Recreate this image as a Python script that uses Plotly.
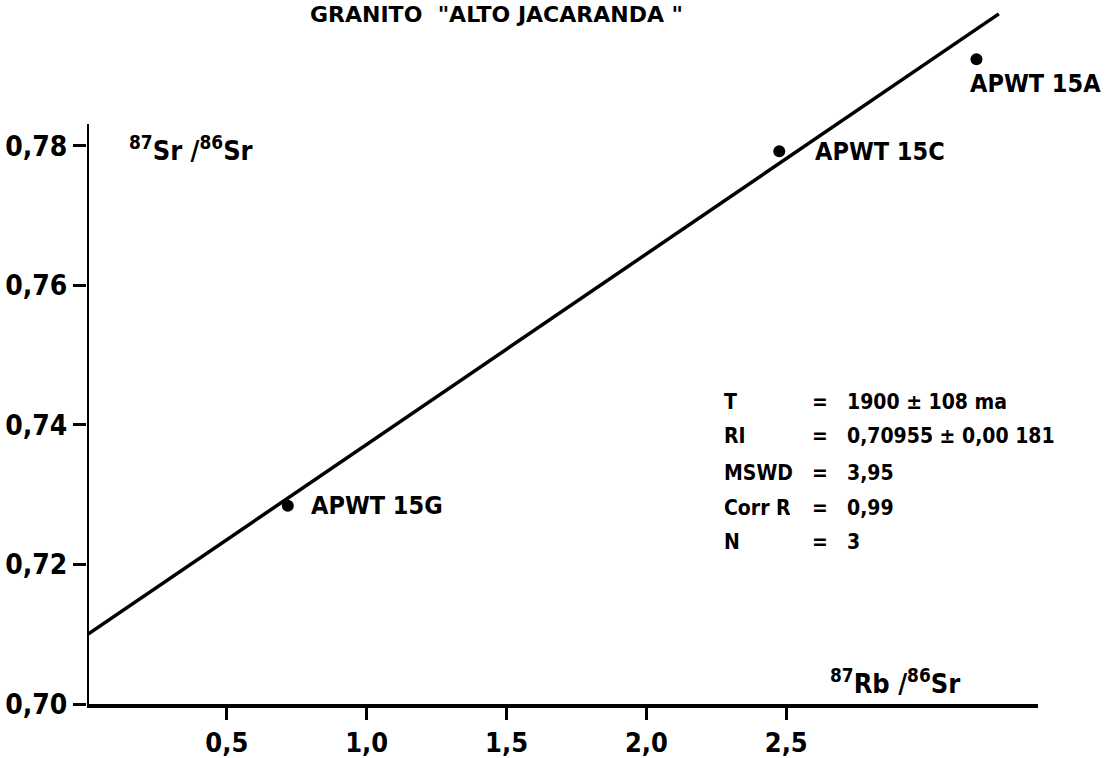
import plotly.graph_objects as go

# ---------------- data ----------------
samples = ["APWT 15G", "APWT 15C", "APWT 15A"]
rb_sr = [0.718, 2.475, 3.18]          # 87Rb/86Sr
sr_sr = [0.7284, 0.7792, 0.7924]      # 87Sr/86Sr
iso_x = [0.0, 3.26]                   # isochron end points
iso_y = [0.7099, 0.7989]
x_ticks = [0.5, 1.0, 1.5, 2.0, 2.5]
x_ticklabels = ["0,5", "1,0", "1,5", "2,0", "2,5"]
y_ticks = [0.70, 0.72, 0.74, 0.76, 0.78]
y_ticklabels = ["0,70", "0,72", "0,74", "0,76", "0,78"]
stat_names = ["T", "RI", "MSWD", "Corr R", "N"]
stat_values = ["1900 ± 108 ma", "0,70955 ± 0,00 181", "3,95", "0,99", "3"]
title_text = 'GRANITO  "ALTO JACARANDA "'

# ---------------- style ----------------
NARROW = "DejaVu Sans Condensed, Liberation Sans Narrow, Arial Narrow, DejaVu Sans, sans-serif"
WIDE = "DejaVu Sans, Liberation Sans, sans-serif"
W, H = 1111, 758
ML, MR, MT, MB = 87, 73, 0, 48
X_RANGE = [0, 3.4]
Y_RANGE = [0.70, 0.70 + (H - MT - MB) / 7037.5]

def px_x(p):
    return X_RANGE[0] + (p - ML) * (X_RANGE[1] - X_RANGE[0]) / (W - ML - MR)

def px_y(p):
    return Y_RANGE[0] + (H - MB - p) * (Y_RANGE[1] - Y_RANGE[0]) / (H - MT - MB)

def bold(size, fam=NARROW):
    return dict(family=fam, size=size, color="black", weight="bold")

fig = go.Figure()

fig.add_trace(go.Scatter(x=iso_x, y=iso_y, mode="lines",
                         line=dict(color="black", width=3.5),
                         hoverinfo="skip", showlegend=False))
fig.add_trace(go.Scatter(x=rb_sr, y=sr_sr, mode="markers",
                         marker=dict(color="black", size=12),
                         text=samples, showlegend=False))

annotations = []
# sample labels
label_offsets = [(0.075, 0.0), (0.12, 0.0), (-0.03, -0.0035)]
for s, x, y, (dx, dy) in zip(samples, rb_sr, sr_sr, label_offsets):
    annotations.append(dict(x=x + dx, y=y + dy, text=s, showarrow=False,
                            xanchor="left", yanchor="middle", font=bold(25)))

# statistics block
row_px = [405, 440, 477, 512, 547]
for name, val, rp in zip(stat_names, stat_values, row_px):
    yy = px_y(rp)
    annotations.append(dict(x=px_x(722), y=yy, text=name, showarrow=False,
                            xanchor="left", yanchor="middle", font=bold(21)))
    annotations.append(dict(x=px_x(820), y=yy, text="=", showarrow=False,
                            xanchor="center", yanchor="middle", font=bold(21)))
    annotations.append(dict(x=px_x(845), y=yy, text=val, showarrow=False,
                            xanchor="left", yanchor="middle", font=bold(21)))

# axis titles
annotations.append(dict(x=px_x(127), y=px_y(150), text="<sup>87</sup>Sr /<sup>86</sup>Sr",
                        showarrow=False, xanchor="left", yanchor="middle", font=bold(27)))
annotations.append(dict(x=px_x(828), y=px_y(687), text="<sup>87</sup>Rb /<sup>86</sup>Sr",
                        showarrow=False, xanchor="left", yanchor="middle", font=bold(27)))
# title
annotations.append(dict(x=px_x(496), y=px_y(1), text=title_text,
                        showarrow=False, xanchor="center", yanchor="top",
                        borderpad=0,
                        font=bold(22, WIDE)))

shapes = [dict(type="line", xref="x", yref="y", x0=0, x1=0,
               y0=Y_RANGE[0], y1=px_y(125),
               line=dict(color="black", width=4))]

fig.update_layout(
    width=W, height=H,
    margin=dict(l=ML, r=MR, t=MT, b=MB),
    paper_bgcolor="white", plot_bgcolor="white",
    showlegend=False,
    annotations=annotations,
    shapes=shapes,
    xaxis=dict(range=X_RANGE, showgrid=False, zeroline=False,
               showline=True, linecolor="black", linewidth=4,
               ticks="outside", ticklen=12, tickwidth=3, tickcolor="black",
               tickvals=x_ticks, ticktext=x_ticklabels,
               tickfont=bold(27)),
    yaxis=dict(range=Y_RANGE, showgrid=False, zeroline=False,
               showline=False,
               ticks="outside", ticklen=13, tickwidth=3, tickcolor="black",
               tickvals=y_ticks, ticktext=y_ticklabels,
               tickfont=bold(28)),
)

fig.write_html("out.html")
